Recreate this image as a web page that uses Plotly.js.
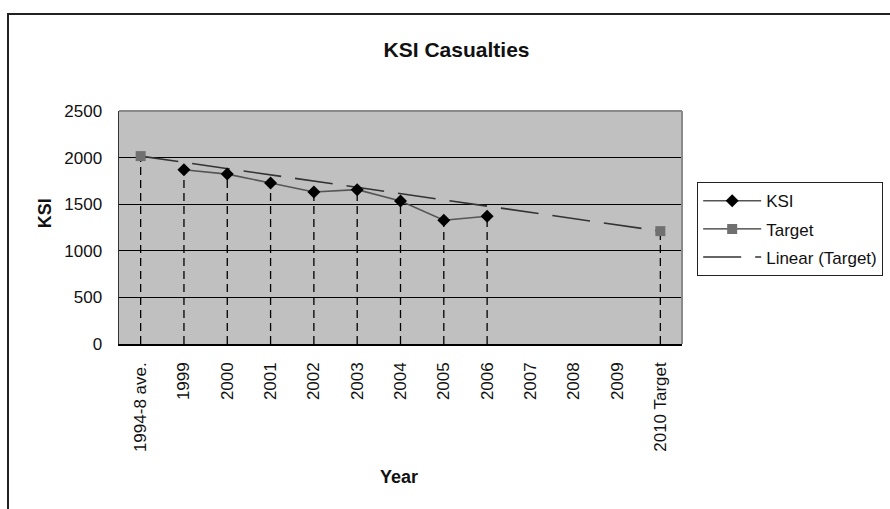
<!DOCTYPE html>
<html>
<head>
<meta charset="utf-8">
<script src="https://cdn.plot.ly/plotly-3.0.1.min.js"></script>
<style>
  html, body { margin: 0; padding: 0; background: #fff; overflow: hidden; }
  #wrap { position: relative; width: 890px; height: 509px; }
  #chart { width: 890px; height: 509px; }
  #frame { position: absolute; left: 7px; top: 13px; width: 1000px; height: 600px;
           border-left: 2px solid #222; border-top: 2px solid #222; pointer-events: none; }
</style>
</head>
<body>
<div id="wrap">
  <div id="chart"></div>
  <div id="frame"></div>
</div>
<script>
// ---- data ----
const categories = ["1994-8 ave.", "1999", "2000", "2001", "2002", "2003", "2004",
                    "2005", "2006", "2007", "2008", "2009", "2010 Target"];
const ksiValues = [null, 1870, 1823, 1727, 1631, 1656, 1535, 1328, 1371, null, null, null, null];
const targetValues = [2016, null, null, null, null, null, null, null, null, null, null, null, 1211];
const yTicks = [0, 500, 1000, 1500, 2000, 2500];

const FONT = "Liberation Sans, Arial, Helvetica, sans-serif";

// Linear trendline fitted to the Target series (least squares over category index)
const tIdx = [], tVal = [];
targetValues.forEach((v, i) => { if (v !== null) { tIdx.push(i); tVal.push(v); } });
const n = tIdx.length;
const mx = tIdx.reduce((a, b) => a + b, 0) / n;
const my = tVal.reduce((a, b) => a + b, 0) / n;
let sxy = 0, sxx = 0;
for (let k = 0; k < n; k++) { sxy += (tIdx[k] - mx) * (tVal[k] - my); sxx += (tIdx[k] - mx) ** 2; }
const slope = sxy / sxx, intercept = my - slope * mx;
const iStart = tIdx[0], iEnd = tIdx[n - 1];
const trendX = [categories[iStart], categories[iEnd]];
const trendY = [intercept + slope * iStart, intercept + slope * iEnd];

// Drop lines from every plotted point down to the axis
const dropX = [], dropY = [];
categories.forEach((c, i) => {
  const v = ksiValues[i] !== null ? ksiValues[i] : targetValues[i];
  if (v !== null) { dropX.push(c, c, c); dropY.push(0, v, null); }
});

const traces = [
  { x: dropX, y: dropY, type: "scatter", mode: "lines", showlegend: false, hoverinfo: "skip",
    line: { color: "#000", width: 1.3, dash: "8px,5px" }, connectgaps: false },
  { x: trendX, y: trendY, type: "scatter", mode: "lines", name: "Linear (Target)",
    legendrank: 3, legendgroup: "c",
    line: { color: "#333", width: 1.6, dash: "38px,14px" } },
  { x: categories, y: ksiValues, type: "scatter", mode: "lines+markers", name: "KSI",
    legendrank: 1, legendgroup: "a", connectgaps: false,
    line: { color: "#555", width: 1.6 },
    marker: { symbol: "diamond", size: 10, color: "#000" } },
  { x: categories, y: targetValues, type: "scatter", mode: "lines+markers", name: "Target",
    legendrank: 2, legendgroup: "b", connectgaps: false,
    line: { color: "#333", width: 1.4 },
    marker: { symbol: "square", size: 10, color: "#707070" } }
];

const layout = {
  width: 890, height: 509,
  margin: { l: 119, r: 208, t: 111, b: 165, autoexpand: false },
  paper_bgcolor: "#fff",
  plot_bgcolor: "#c0c0c0",
  font: { family: FONT, size: 17, color: "#000" },
  title: { text: "<b>KSI Casualties</b>", font: { family: FONT, size: 21, color: "#111" },
           x: 0.513, xref: "container", xanchor: "center",
           y: 0.902, yref: "container", yanchor: "middle" },
  xaxis: {
    type: "category", categoryorder: "array", categoryarray: categories,
    range: [-0.5, categories.length - 0.5],
    showgrid: false, zeroline: false, automargin: false,
    showline: true, linecolor: "#000", linewidth: 1.5,
    ticks: "", tickangle: -90, ticklabelstandoff: 10,
    tickfont: { family: FONT, size: 17, color: "#111" }
  },
  yaxis: {
    range: [0, 2500], tickvals: yTicks, ticktext: yTicks.map(String),
    showgrid: true, gridcolor: "#000", gridwidth: 1.2, automargin: false,
    zeroline: false, showline: true, linecolor: "#333", linewidth: 1.5,
    ticks: "", ticklabelstandoff: 12,
    tickfont: { family: FONT, size: 17, color: "#111" }
  },
  showlegend: true,
  legend: {
    x: 1.0266, xanchor: "left", y: 0.695, yanchor: "top",
    bgcolor: "#fff", bordercolor: "#222", borderwidth: 1.2,
    font: { family: FONT, size: 17, color: "#111" },
    itemwidth: 58, tracegroupgap: 3, traceorder: "grouped"
  },
  shapes: [
    { type: "line", xref: "paper", yref: "paper", x0: 0, x1: 1, y0: 1, y1: 1,
      line: { color: "#8a8a8a", width: 2 }, layer: "above" },
    { type: "line", xref: "paper", yref: "paper", x0: 1, x1: 1, y0: 0, y1: 1,
      line: { color: "#8a8a8a", width: 2 }, layer: "above" }
  ],
  annotations: [
    { text: "<b>KSI</b>", xref: "paper", yref: "paper", x: -0.131, y: 0.562,
      textangle: -90, showarrow: false, xanchor: "center", yanchor: "middle",
      font: { family: FONT, size: 18, color: "#111" } },
    { text: "<b>Year</b>", xref: "paper", yref: "paper", x: 0.498, y: -0.571,
      showarrow: false, xanchor: "center", yanchor: "middle",
      font: { family: FONT, size: 18, color: "#111" } }
  ]
};

Plotly.newPlot("chart", traces, layout, { displayModeBar: false, staticPlot: true });
</script>
</body>
</html>
